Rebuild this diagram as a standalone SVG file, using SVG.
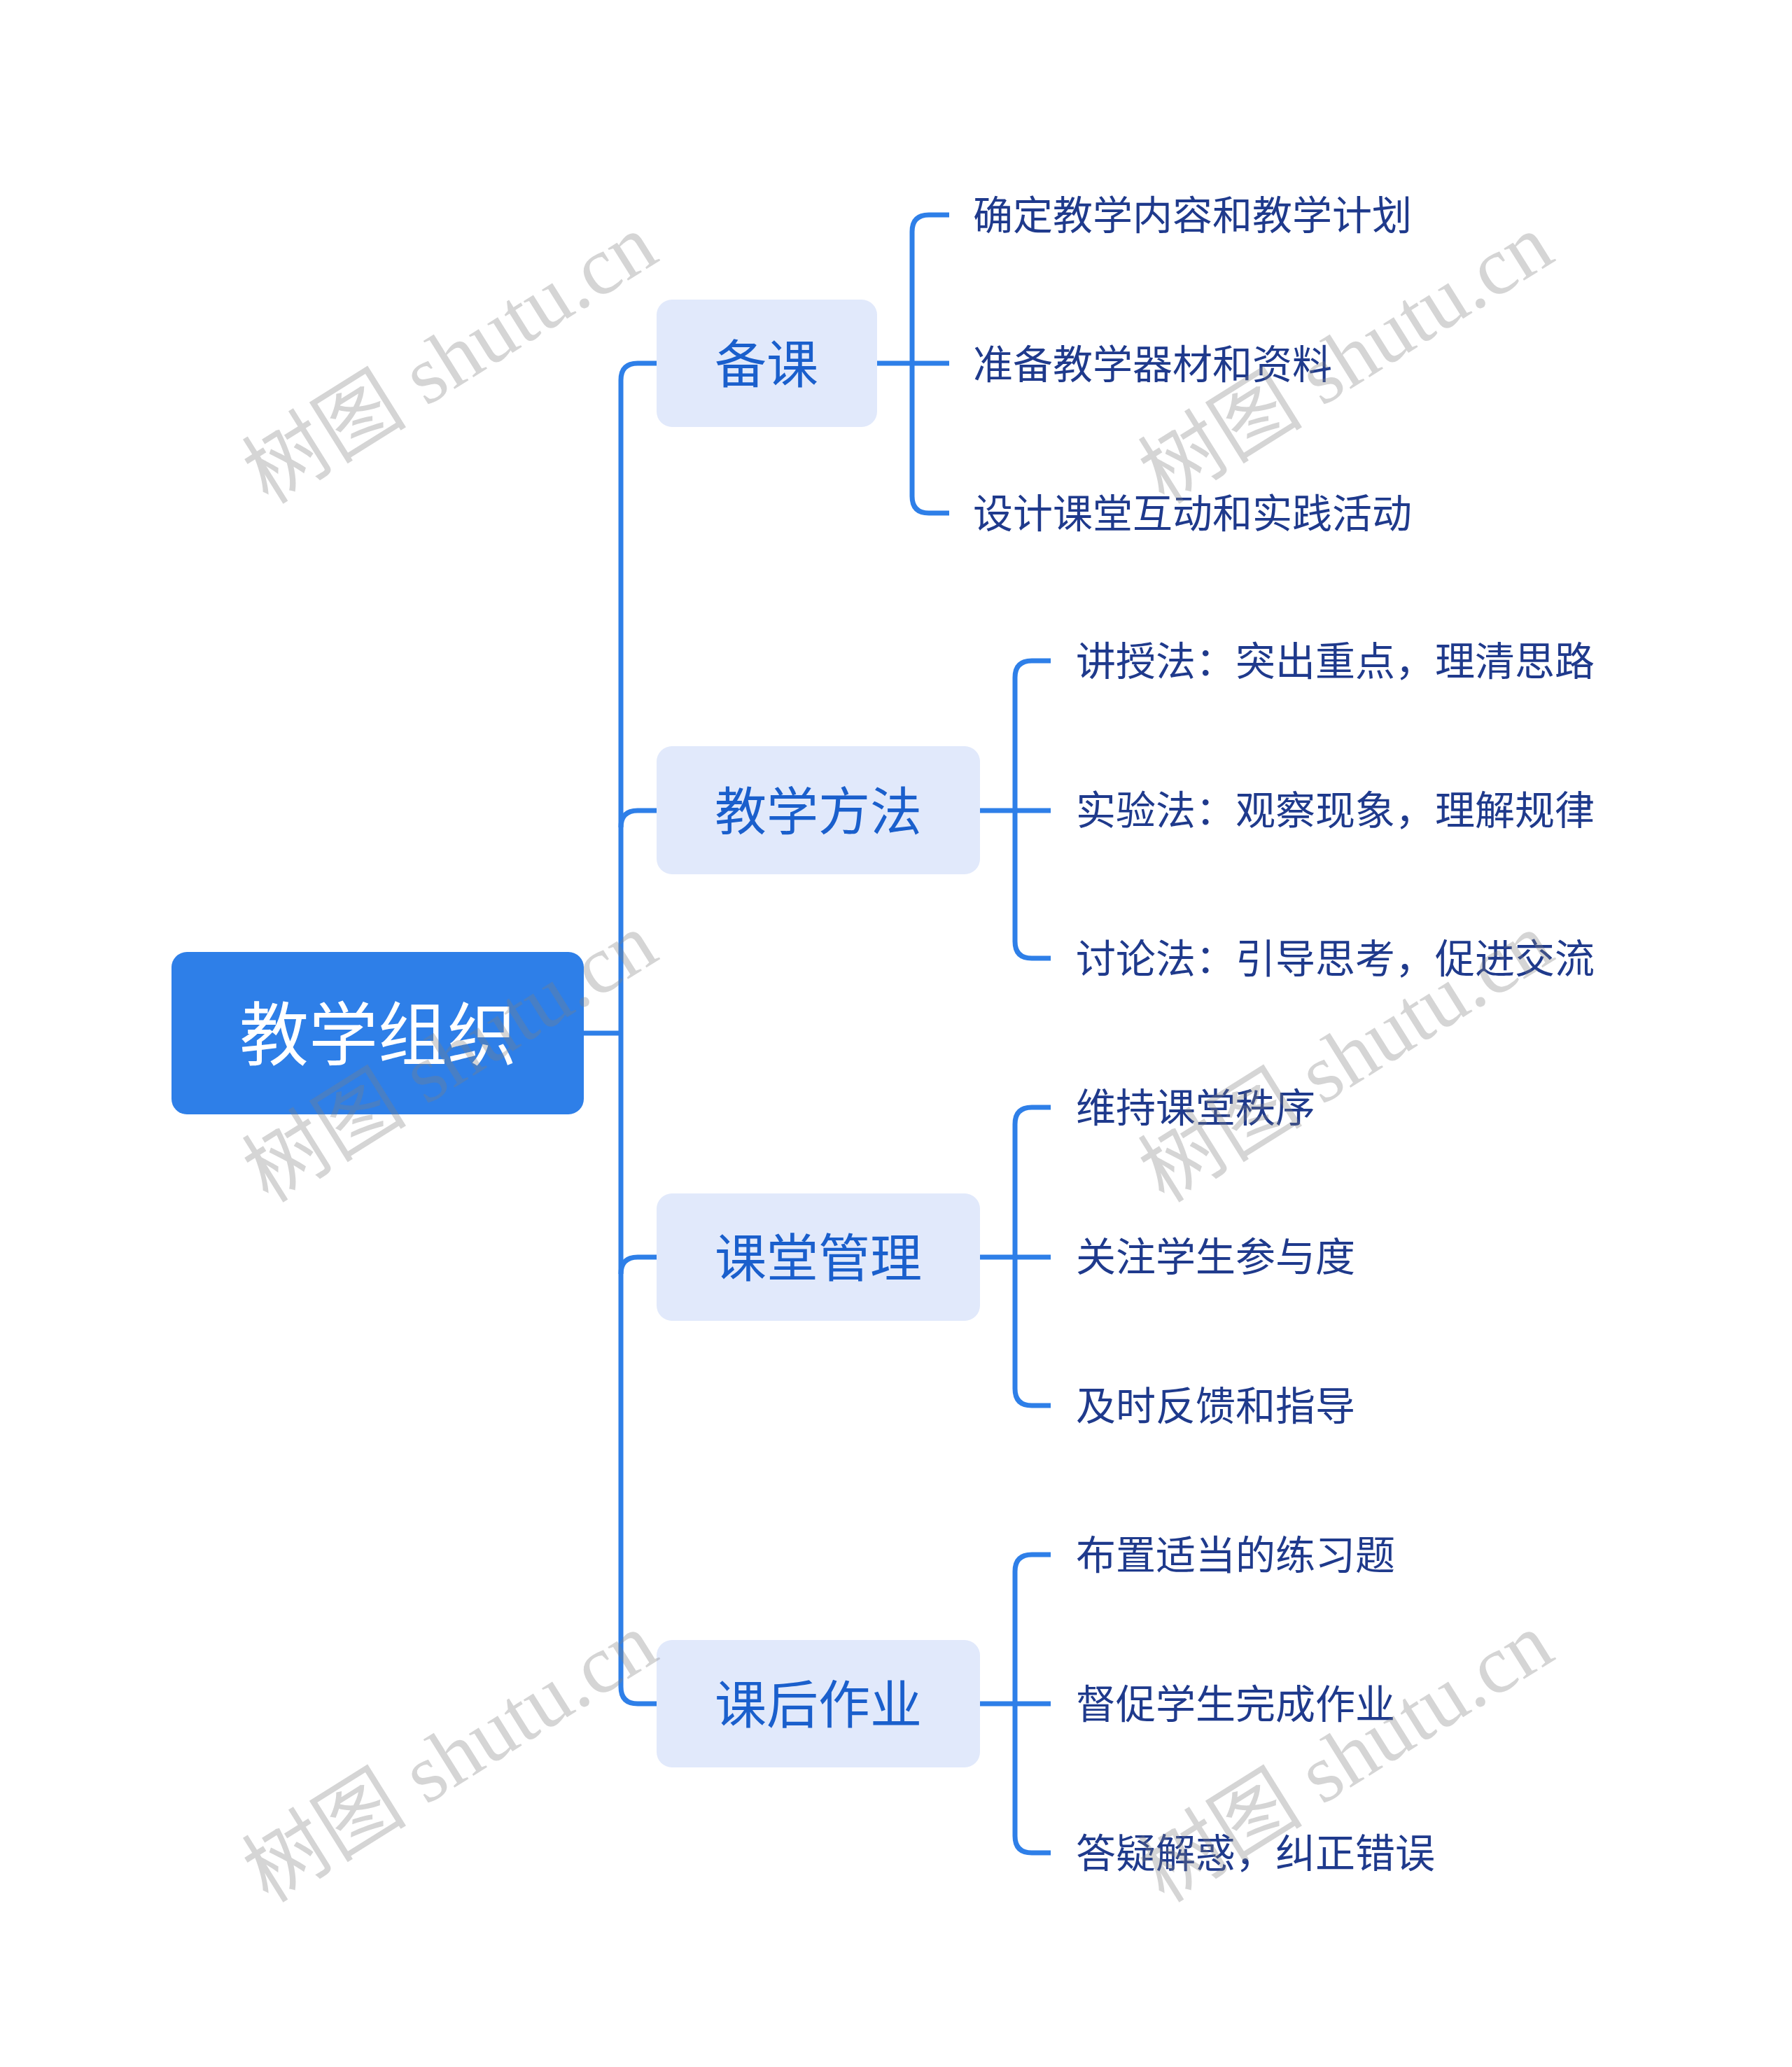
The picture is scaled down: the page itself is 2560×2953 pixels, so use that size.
<svg xmlns="http://www.w3.org/2000/svg" width="2560" height="2953" viewBox="0 0 2560 2953">
<style>
.root{fill:#2E7FE8}
.rootT{fill:#ffffff;font-family:"Noto Sans CJK SC","Noto Sans",sans-serif;font-size:99px;text-anchor:middle;dominant-baseline:central}
.l1{fill:#E1E9FB}
.l1T{fill:#1A5FCC;font-family:"Noto Sans CJK SC","Noto Sans",sans-serif;font-size:74px;text-anchor:middle;dominant-baseline:central}
.l2T{fill:#1F3A8C;font-family:"Noto Sans CJK SC","Noto Sans",sans-serif;font-size:57px;dominant-baseline:central}
.conn{fill:none;stroke:#2E7FE8;stroke-width:7}
.wm{fill:#808080;fill-opacity:0.33;font-family:"Liberation Serif","Noto Sans CJK SC",serif;font-size:118px;text-anchor:middle;dominant-baseline:central}
</style>
<rect width="2560" height="2953" fill="#ffffff"/>
<g id="connectors">
<path class="conn" d="M834 1476 H887"/>
<path class="conn" d="M938 519 H911 Q887 519 887 543 V2410 Q887 2434 911 2434 H938"/>
<path class="conn" d="M887 1182 Q887 1158 911 1158 H938"/>
<path class="conn" d="M887 1820 Q887 1796 911 1796 H938"/>
<path class="conn" d="M1253 519 H1356"/>
<path class="conn" d="M1356 307 H1327 Q1303 307 1303 331 V709 Q1303 733 1327 733 H1356"/>
<path class="conn" d="M1400 1158 H1501"/>
<path class="conn" d="M1501 944 H1474 Q1450 944 1450 968 V1345 Q1450 1369 1474 1369 H1501"/>
<path class="conn" d="M1400 1796 H1501"/>
<path class="conn" d="M1501 1582 H1474 Q1450 1582 1450 1606 V1984 Q1450 2008 1474 2008 H1501"/>
<path class="conn" d="M1400 2434 H1501"/>
<path class="conn" d="M1501 2221 H1474 Q1450 2221 1450 2245 V2623 Q1450 2647 1474 2647 H1501"/>
</g>
<g id="root"><rect class="root" x="245" y="1360" width="589" height="232" rx="22"/><text class="rootT" x="540" y="1471">教学组织</text></g>
<g id="n1"><rect class="l1" x="938" y="428" width="315" height="182" rx="22"/><text class="l1T" x="1095" y="514">备课</text></g>
<g id="n2"><rect class="l1" x="938" y="1066" width="462" height="183" rx="22"/><text class="l1T" x="1169" y="1153">教学方法</text></g>
<g id="n3"><rect class="l1" x="938" y="1705" width="462" height="182" rx="22"/><text class="l1T" x="1169" y="1791">课堂管理</text></g>
<g id="n4"><rect class="l1" x="938" y="2343" width="462" height="182" rx="22"/><text class="l1T" x="1169" y="2429">课后作业</text></g>
<g id="n1a"><text class="l2T" x="1390" y="303">确定教学内容和教学计划</text></g>
<g id="n1b"><text class="l2T" x="1390" y="516">准备教学器材和资料</text></g>
<g id="n1c"><text class="l2T" x="1390" y="729">设计课堂互动和实践活动</text></g>
<g id="n2a"><text class="l2T" x="1537" y="940">讲授法：突出重点，理清思路</text></g>
<g id="n2b"><text class="l2T" x="1537" y="1153">实验法：观察现象，理解规律</text></g>
<g id="n2c"><text class="l2T" x="1537" y="1365">讨论法：引导思考，促进交流</text></g>
<g id="n3a"><text class="l2T" x="1537" y="1578">维持课堂秩序</text></g>
<g id="n3b"><text class="l2T" x="1537" y="1791">关注学生参与度</text></g>
<g id="n3c"><text class="l2T" x="1537" y="2004">及时反馈和指导</text></g>
<g id="n4a"><text class="l2T" x="1537" y="2217">布置适当的练习题</text></g>
<g id="n4b"><text class="l2T" x="1537" y="2430">督促学生完成作业</text></g>
<g id="n4c"><text class="l2T" x="1537" y="2643">答疑解惑，纠正错误</text></g>
<g id="watermarks">
<text class="wm" transform="translate(643 513) rotate(-32)">树图 shutu.cn</text>
<text class="wm" transform="translate(1923 513) rotate(-32)">树图 shutu.cn</text>
<text class="wm" transform="translate(643 1511) rotate(-32)">树图 shutu.cn</text>
<text class="wm" transform="translate(1923 1511) rotate(-32)">树图 shutu.cn</text>
<text class="wm" transform="translate(643 2511) rotate(-32)">树图 shutu.cn</text>
<text class="wm" transform="translate(1923 2511) rotate(-32)">树图 shutu.cn</text>
</g>
</svg>
